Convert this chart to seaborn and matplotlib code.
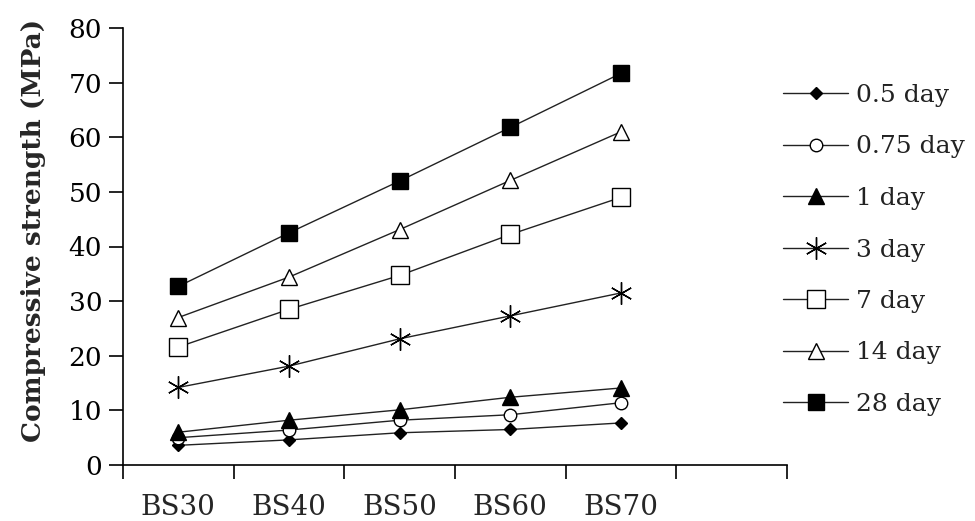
import matplotlib
matplotlib.use("Agg")
import matplotlib.pyplot as plt
import seaborn as sns
import pandas as pd
from matplotlib.ticker import FixedLocator, NullFormatter, FixedFormatter

categories = ["BS30", "BS40", "BS50", "BS60", "BS70"]
series_names = ["0.5 day", "0.75 day", "1 day", "3 day", "7 day", "14 day", "28 day"]
s_05 = [3.6, 4.6, 5.9, 6.5, 7.7]
s_075 = [5.0, 6.4, 8.2, 9.2, 11.4]
s_1 = [6.0, 8.2, 10.1, 12.4, 14.1]
s_3 = [14.2, 18.1, 23.1, 27.3, 31.5]
s_7 = [21.6, 28.5, 34.7, 42.2, 49.0]
s_14 = [27.0, 34.4, 43.1, 52.1, 61.0]
s_28 = [32.7, 42.5, 52.0, 61.8, 71.7]
y_ticks = [0, 10, 20, 30, 40, 50, 60, 70, 80]
y_label = "Compressive strength (MPa)"

values = [s_05, s_075, s_1, s_3, s_7, s_14, s_28]
rows = []
for name, vals in zip(series_names, values):
    for i, v in enumerate(vals):
        rows.append({"pos": i, "value": v, "series": name})
df = pd.DataFrame(rows)

sns.set_style("white")
plt.rcParams["font.family"] = ["DejaVu Serif"]

fig = plt.figure(figsize=(9.75, 5.21), dpi=100)
ax = fig.add_axes([123/975, 56/521, 664/975, 437/521])

styles = {
    "0.5 day": dict(marker="D", ms=6, mfc="black", mec="black"),
    "0.75 day": dict(marker="o", ms=9, mfc="white", mec="black"),
    "1 day": dict(marker="^", ms=11, mfc="black", mec="black"),
    "3 day": dict(marker=(6, 2, 0), ms=16, mfc="black", mec="black", mew=1.0),
    "7 day": dict(marker="s", ms=13, mfc="white", mec="black"),
    "14 day": dict(marker="^", ms=12, mfc="white", mec="black"),
    "28 day": dict(marker="s", ms=12, mfc="black", mec="black"),
}

for name in series_names:
    st = styles[name]
    sub = df[df["series"] == name]
    sns.lineplot(data=sub, x="pos", y="value", ax=ax, color="#222222",
                 linewidth=1.0, marker=st["marker"], markersize=st["ms"],
                 markerfacecolor=st["mfc"], markeredgecolor=st["mec"],
                 markeredgewidth=st.get("mew", 1.0), label=name, legend=False)

ax.set_xlim(-0.5, 5.5)
ax.set_ylim(0, 80)
ax.set_yticks(y_ticks)
ax.set_yticklabels([str(t) for t in y_ticks], fontsize=19)
ax.xaxis.set_major_locator(FixedLocator([-0.5, 0.5, 1.5, 2.5, 3.5, 4.5, 5.5]))
ax.xaxis.set_major_formatter(NullFormatter())
ax.xaxis.set_minor_locator(FixedLocator(list(range(len(categories)))))
ax.xaxis.set_minor_formatter(FixedFormatter(categories))
ax.tick_params(axis="x", which="minor", length=0, labelsize=20, pad=21)
ax.tick_params(axis="x", which="major", length=10, width=1.2, direction="out", color="black")
ax.tick_params(axis="y", which="major", length=10, width=1.2, direction="out", color="black", labelsize=19, pad=5)
ax.tick_params(axis="both", colors="black")
ax.tick_params(axis="x", which="major", bottom=True)
ax.tick_params(axis="y", which="major", left=True)

for sp in ["top", "right"]:
    ax.spines[sp].set_visible(False)
for sp in ["left", "bottom"]:
    ax.spines[sp].set_color("black")
    ax.spines[sp].set_linewidth(1.2)

ax.set_xlabel("")
ax.set_ylabel(y_label, fontsize=19, fontweight="bold")
ax.yaxis.set_label_coords(-(123 - 46) / 664, (465 - 230) / 437)

handles, labels = ax.get_legend_handles_labels()
leg = fig.legend(handles, labels, loc="upper left",
                 bbox_to_anchor=(783/975, 1 - 84/521), frameon=False,
                 fontsize=18, handlelength=2.6, handletextpad=0.3,
                 labelspacing=1.14, borderpad=0, borderaxespad=0)
for t in leg.get_texts():
    t.set_color("#222222")

fig.savefig("out.png", dpi=100, facecolor="white")
